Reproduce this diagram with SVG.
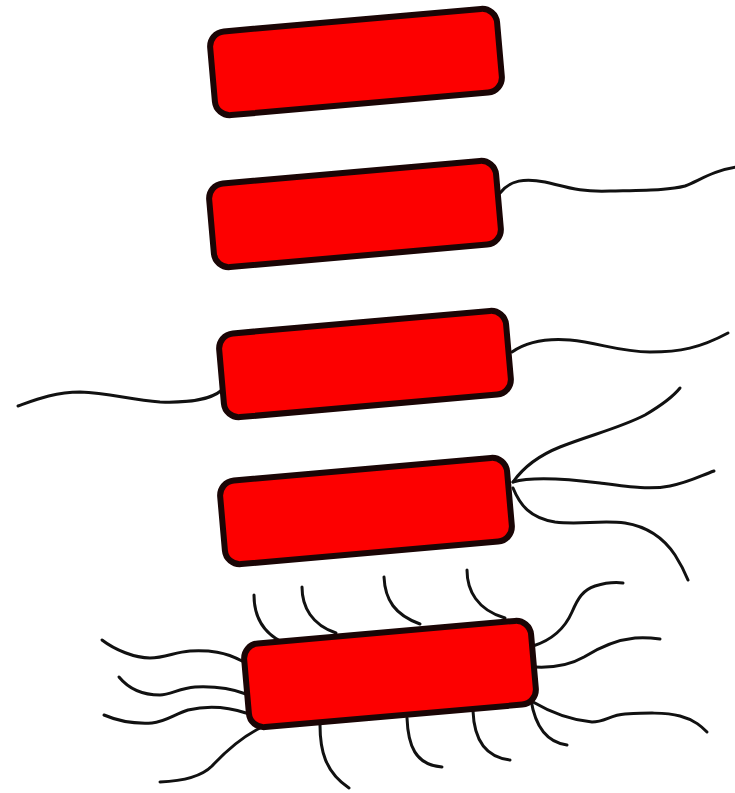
<svg xmlns="http://www.w3.org/2000/svg" width="735" height="793" viewBox="0 0 735 793">
  <style>
    .body { fill: #fd0000; stroke: #1a0505; stroke-width: 6; }
    .flag { fill: none; stroke: #111; stroke-width: 3; stroke-linecap: round; stroke-linejoin: round; }
  </style>
  <defs>
    <rect id="rod" x="-144" y="-42" width="288" height="84" rx="15" ry="15"/>
  </defs>
  <rect width="735" height="793" fill="#ffffff"/>

  <!-- atrichous: no flagella -->
  <g id="cell-atrichous">
    <use href="#rod" class="body" transform="translate(356,62) rotate(-5)"/>
  </g>

  <!-- monotrichous: one polar flagellum -->
  <g id="cell-monotrichous">
    <path class="flag" d="M500,193 C510,180 525,178 545,182 C570,188 580,192 610,191 C650,190 670,190 685,186 C700,180 715,170 737,167"/>
    <use href="#rod" class="body" transform="translate(355,214) rotate(-5)"/>
  </g>

  <!-- amphitrichous: one flagellum at each pole -->
  <g id="cell-amphitrichous">
    <path class="flag" d="M222,390 C210,400 190,403 160,402 C130,400 110,393 80,392 C55,392 35,400 18,406"/>
    <path class="flag" d="M512,352 C525,343 545,338 570,340 C600,343 620,352 650,352 C680,352 700,348 728,333"/>
    <use href="#rod" class="body" transform="translate(365,364) rotate(-5)"/>
  </g>

  <!-- lophotrichous: a tuft at one pole -->
  <g id="cell-lophotrichous">
    <path class="flag" d="M513,482 C525,465 540,455 560,447 C590,435 620,428 645,415 C662,405 672,398 680,388"/>
    <path class="flag" d="M513,482 C530,477 560,478 600,483 C630,487 650,490 670,486 C690,482 700,476 714,471"/>
    <path class="flag" d="M513,488 C520,505 530,518 555,522 C580,525 600,520 625,523 C650,527 665,540 675,555 C682,566 686,575 688,580"/>
    <use href="#rod" class="body" transform="translate(366,511) rotate(-5)"/>
  </g>

  <!-- peritrichous: flagella all over the surface -->
  <g id="cell-peritrichous">
    <!-- top -->
    <path class="flag" d="M254,595 C254,615 262,632 282,642"/>
    <path class="flag" d="M302,587 C302,607 312,625 336,633"/>
    <path class="flag" d="M384,577 C385,600 395,615 420,624"/>
    <path class="flag" d="M467,570 C467,590 477,610 505,618"/>
    <!-- left -->
    <path class="flag" d="M242,661 C225,652 210,650 190,651 C175,652 165,658 150,658 C135,658 115,650 102,640"/>
    <path class="flag" d="M246,694 C230,688 215,686 195,687 C180,688 170,695 160,695 C140,695 128,688 119,677"/>
    <path class="flag" d="M246,713 C225,706 205,706 188,710 C175,714 165,722 152,723 C135,724 118,721 104,715"/>
    <path class="flag" d="M260,728 C240,738 225,752 212,766 C202,776 185,781 160,782"/>
    <!-- bottom -->
    <path class="flag" d="M320,725 C320,750 325,772 349,788"/>
    <path class="flag" d="M407,718 C408,745 415,765 442,767"/>
    <path class="flag" d="M473,711 C474,738 484,757 510,760"/>
    <path class="flag" d="M531,700 C535,725 545,742 567,745"/>
    <!-- right -->
    <path class="flag" d="M533,646 C552,640 565,628 572,612 C578,598 583,590 595,586 C605,583 615,582 623,583"/>
    <path class="flag" d="M535,667 C555,668 570,665 584,657 C600,647 615,640 635,638 C645,637 653,638 660,639"/>
    <path class="flag" d="M533,702 C550,712 570,720 592,722 C605,722 610,715 625,714 C645,713 665,712 680,716 C695,720 702,727 707,732"/>
    <use href="#rod" class="body" transform="translate(390,674) rotate(-5)"/>
  </g>
</svg>
